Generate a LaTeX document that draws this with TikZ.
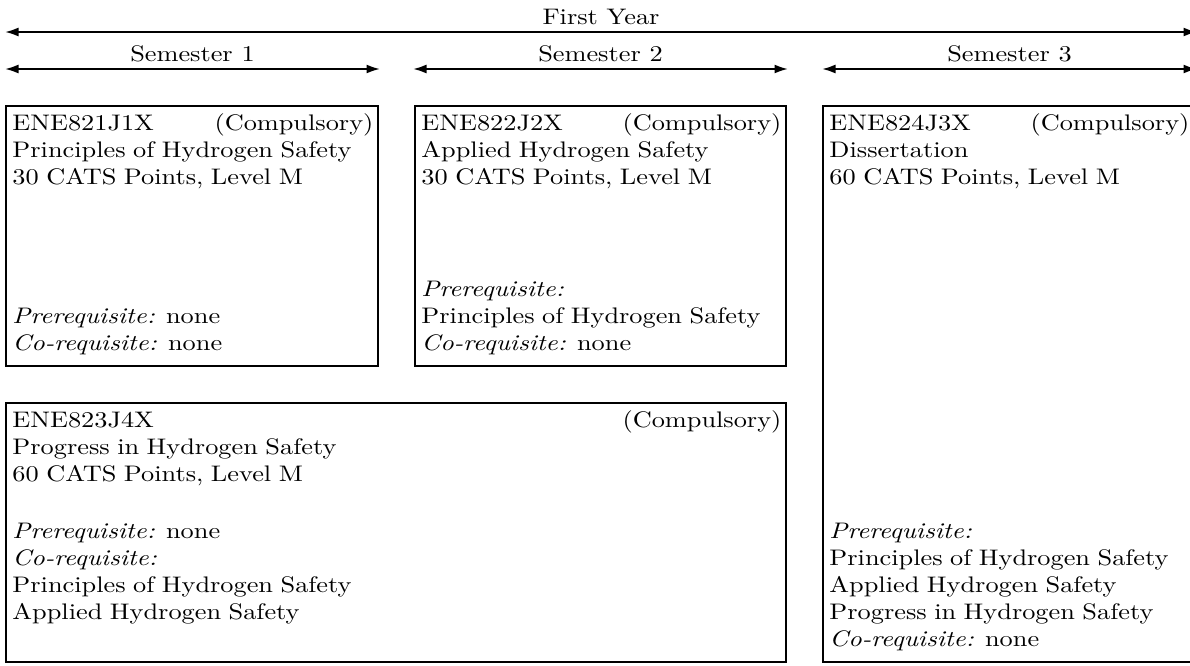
\documentclass[tikz,border=0pt]{standalone}
\usepackage{fontspec}
\setmainfont{Latin Modern Roman}[FakeStretch=1.17]
\usetikzlibrary{fit,arrows.meta}
\begin{document}
\begin{tikzpicture}[x=0.44444pt,y=-0.44444pt,
  arr/.style={line width=0.9pt,{Latex[length=6pt,width=4pt]}-{Latex[length=6pt,width=4pt]}},
  lbl/.style={above,inner sep=2.6pt},
  box/.style={draw,line width=0.9pt,inner sep=0pt,rectangle},
  txt/.style={anchor=base west,inner sep=0pt,align=left}]
\useasboundingbox (0,0) rectangle (1190,665);
% arrows
\coordinate (fyl) at (5,32);   \coordinate (fyr) at (1197,32);
\coordinate (s1l) at (5,69);   \coordinate (s1r) at (380,69);
\coordinate (s2l) at (413,69); \coordinate (s2r) at (788,69);
\coordinate (s3l) at (822,69); \coordinate (s3r) at (1197,69);
\draw[arr] (fyl) -- node[lbl] (fy) {First Year} (fyr);
\draw[arr] (s1l) -- node[lbl] (s1) {Semester 1} (s1r);
\draw[arr] (s2l) -- node[lbl] (s2) {Semester 2} (s2r);
\draw[arr] (s3l) -- node[lbl] (s3) {Semester 3} (s3r);
% boxes
\node[box,fit={(6,106) (378,366)}] (b1) {};
\node[box,fit={(415,106) (786,366)}] (b2) {};
\node[box,fit={(823,106) (1195,662)}] (b3) {};
\node[box,fit={(6,403) (786,662)}] (b4) {};
% box 1
\node[txt,text width=361*0.44444pt] (t1) at (12,130)
  {ENE821J1X\hfill(Compulsory)\\Principles of Hydrogen Safety\\30 CATS Points, Level M};
\node[txt,text width=361*0.44444pt] (p1) at (12,323) {\textit{Prerequisite:} none\\\textit{Co-requisite:} none};
% box 2
\node[txt,text width=360*0.44444pt] (t2) at (421,130)
  {ENE822J2X\hfill(Compulsory)\\Applied Hydrogen Safety\\30 CATS Points, Level M};
\node[txt,text width=360*0.44444pt] (p2) at (421,296) {\textit{Prerequisite:}\\Principles of Hydrogen Safety\\\textit{Co-requisite:} none};
% box 3
\node[txt,text width=360*0.44444pt] (t3) at (829,130)
  {ENE824J3X\hfill(Compulsory)\\Dissertation\\60 CATS Points, Level M};
\node[txt,text width=360*0.44444pt] (p3) at (829,538) {\textit{Prerequisite:}\\Principles of Hydrogen Safety\\Applied Hydrogen Safety\\Progress in Hydrogen Safety\\\textit{Co-requisite:} none};
% box 4
\node[txt,text width=769*0.44444pt] (t4) at (12,427)
  {ENE823J4X\hfill(Compulsory)\\Progress in Hydrogen Safety\\60 CATS Points, Level M};
\node[txt,text width=769*0.44444pt] (p4) at (12,538) {\textit{Prerequisite:} none\\\textit{Co-requisite:}\\Principles of Hydrogen Safety\\Applied Hydrogen Safety};
\end{tikzpicture}
\end{document}
